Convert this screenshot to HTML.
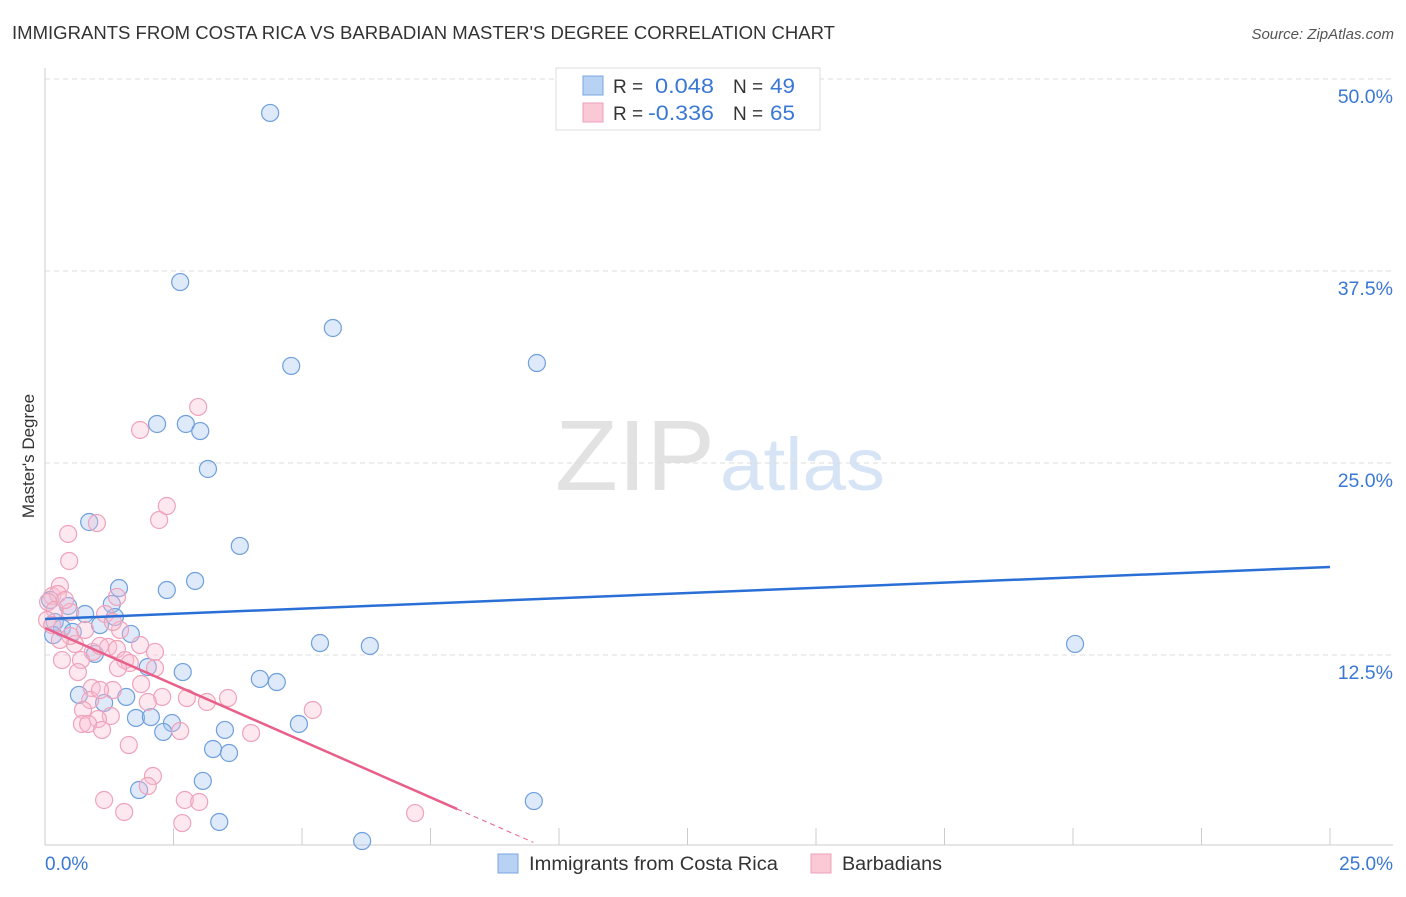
<!DOCTYPE html>
<html><head><meta charset="utf-8"><style>
body{margin:0;background:#fff;font-family:"Liberation Sans",sans-serif;}
svg text{font-family:"Liberation Sans",sans-serif;}
</style></head><body>
<svg id="chart" width="1406" height="892">
<text x="12" y="39" font-size="18" fill="#333" textLength="823" lengthAdjust="spacingAndGlyphs">IMMIGRANTS FROM COSTA RICA VS BARBADIAN MASTER'S DEGREE CORRELATION CHART</text>
<text x="1394" y="39" font-size="15" fill="#555" text-anchor="end" font-style="italic">Source: ZipAtlas.com</text>
<text x="34" y="456" font-size="17" fill="#333" text-anchor="middle" transform="rotate(-90 34 456)">Master's Degree</text>
<g><text x="555" y="490" font-size="100" fill="#e2e2e2" textLength="160" lengthAdjust="spacingAndGlyphs" font-family="Liberation Serif">ZIP</text><text x="720" y="490" font-size="74" fill="#d6e4f6" textLength="165" lengthAdjust="spacingAndGlyphs">atlas</text></g>
<g id="grid"></g><g id="axes"></g><g id="pts"></g><g id="trend"></g>
<g>
<rect x="556" y="68" width="264" height="62" fill="#fff" stroke="#ddd"/>
<rect x="583" y="76" width="20" height="19" fill="#b8d2f4" stroke="#7aa6e0"/>
<text x="613" y="93" font-size="19" fill="#333">R =</text><text x="655" y="93" font-size="21" fill="#3a78d4" textLength="59" lengthAdjust="spacingAndGlyphs">0.048</text>
<text x="733" y="93" font-size="19" fill="#333">N =</text><text x="770" y="93" font-size="21" fill="#3a78d4" textLength="25" lengthAdjust="spacingAndGlyphs">49</text>
<rect x="583" y="103" width="20" height="19" fill="#fbc8d6" stroke="#eca0b8"/>
<text x="613" y="120" font-size="19" fill="#333">R =</text><text x="648" y="120" font-size="21" fill="#3a78d4" textLength="66" lengthAdjust="spacingAndGlyphs">-0.336</text>
<text x="733" y="120" font-size="19" fill="#333">N =</text><text x="770" y="120" font-size="21" fill="#3a78d4" textLength="25" lengthAdjust="spacingAndGlyphs">65</text>
</g>
<g>
<rect x="498" y="854" width="20" height="19" fill="#b8d2f4" stroke="#7aa6e0"/>
<text x="529" y="870" font-size="19" fill="#333" textLength="249" lengthAdjust="spacingAndGlyphs">Immigrants from Costa Rica</text>
<rect x="811" y="854" width="20" height="19" fill="#fbc8d6" stroke="#eca0b8"/>
<text x="842" y="870" font-size="19" fill="#333" textLength="100" lengthAdjust="spacingAndGlyphs">Barbadians</text>
</g>
</svg>
<script>
const yTicks=[12.5,25,37.5,50];
const yTickLabels=["12.5%","25.0%","37.5%","50.0%"];
const xTickLabels=["0.0%","25.0%"];
const blueX=[4.38,2.63,5.60,4.79,9.57,2.18,2.74,3.02,3.17,0.86,3.79,2.92,2.37,1.44,1.30,0.10,0.45,0.78,1.36,0.19,0.33,1.07,0.16,0.54,1.67,5.35,6.32,20.04,0.97,2.00,2.68,4.18,4.51,0.66,1.58,1.15,1.77,2.06,2.47,2.30,3.50,4.94,3.27,3.58,3.07,1.83,9.51,3.39,6.17];
const blueY=[47.79,36.78,33.79,31.32,31.51,27.54,27.54,27.08,24.61,21.16,19.60,17.32,16.73,16.86,15.82,16.08,15.69,15.17,14.97,14.65,14.26,14.45,13.80,14.00,13.87,13.28,13.09,13.22,12.57,11.72,11.39,10.94,10.74,9.90,9.77,9.38,8.40,8.46,8.07,7.49,7.62,8.01,6.38,6.12,4.30,3.71,2.99,1.63,0.39];
const pinkX=[0.14,0.29,0.25,0.06,0.19,0.49,0.04,0.14,0.45,0.47,1.01,2.22,2.37,2.98,1.85,1.40,1.17,1.46,0.58,0.93,0.33,0.70,1.07,1.23,1.40,1.56,1.65,2.14,2.14,1.42,0.64,0.91,1.32,1.87,2.28,3.15,3.56,5.21,0.88,0.74,1.28,1.03,0.72,0.84,1.11,2.63,4.01,1.63,2.10,2.00,1.15,2.72,3.00,2.67,1.54,7.20,0.49,0.78,1.32,0.29,2.00,2.76,0.39,1.85,1.07];
const pinkY=[16.34,16.99,16.47,15.95,15.43,15.30,14.78,14.45,20.38,18.62,21.09,21.29,22.20,28.65,27.15,16.28,15.17,14.13,13.22,12.70,12.17,12.17,13.09,13.02,12.89,12.17,11.98,12.70,11.65,11.65,11.39,10.35,10.22,10.61,9.77,9.44,9.70,8.92,9.57,8.92,8.53,8.33,8.01,8.01,7.62,7.55,7.42,6.64,4.62,3.97,3.06,3.06,2.93,1.56,2.28,2.21,13.74,14.13,14.65,13.48,9.44,9.70,16.08,13.15,10.22];
const blueTrend=[14.84,18.23];
const pinkTrend=[14.26,2.47,0.3];
const pinkTrendX=[0,8.02,9.5];
const NS="http://www.w3.org/2000/svg";
const sx=v=>45+v*51.4, sy=v=>847-v*15.36;
function mk(tag,attrs,parent){const e=document.createElementNS(NS,tag);for(const k in attrs)e.setAttribute(k,attrs[k]);document.getElementById(parent).appendChild(e);return e;}
yTicks.forEach((t,i)=>{
 const g=mk('line',{x1:45,x2:1393,y1:sy(t),y2:sy(t),stroke:'#ddd','stroke-dasharray':'5,4'},'grid');
 
 
 const l=mk('text',{x:1393,y:sy(t)+24,'font-size':19.5,fill:'#3a78d4','text-anchor':'end'},'grid');l.textContent=yTickLabels[i];
 
 
});
mk('line',{x1:45,x2:45,y1:68,y2:845,stroke:'#ccc'},'axes');
mk('line',{x1:45,x2:1393,y1:845,y2:845,stroke:'#ccc'},'axes');
for(let i=0;i<=10;i++){const x=sx(i*2.5);const t=mk('line',{x1:x,x2:x,y1:828,y2:845,stroke:'#ccc'},'axes');}
[0,25].forEach((v,i)=>{const t=mk('text',{x:i?1393:45,y:870,'font-size':19,fill:'#3a78d4','text-anchor':i?'end':'start'},'axes');t.textContent=xTickLabels[i];

});
blueX.forEach((x,i)=>{const c=mk('circle',{cx:sx(x),cy:sy(blueY[i]),r:8.5,fill:'rgba(160,196,240,0.35)',stroke:'#6f9fdc','stroke-width':1.2},'pts');

});
pinkX.forEach((x,i)=>{const c=mk('circle',{cx:sx(x),cy:sy(pinkY[i]),r:8.5,fill:'rgba(248,190,208,0.35)',stroke:'#eea3bb','stroke-width':1.2},'pts');

});
const bt=mk('line',{x1:sx(0),x2:sx(25),y1:sy(blueTrend[0]),y2:sy(blueTrend[1]),stroke:'#2a6fd6','stroke-width':2.5},'trend');


const pt=mk('line',{x1:sx(pinkTrendX[0]),x2:sx(pinkTrendX[1]),y1:sy(pinkTrend[0]),y2:sy(pinkTrend[1]),stroke:'#e8608a','stroke-width':2.5},'trend');


const pd=mk('line',{x1:sx(pinkTrendX[1]),x2:sx(pinkTrendX[2]),y1:sy(pinkTrend[1]),y2:sy(pinkTrend[2]),stroke:'#e8608a','stroke-width':1,'stroke-dasharray':'5,4'},'trend');


</script>
</body></html>
